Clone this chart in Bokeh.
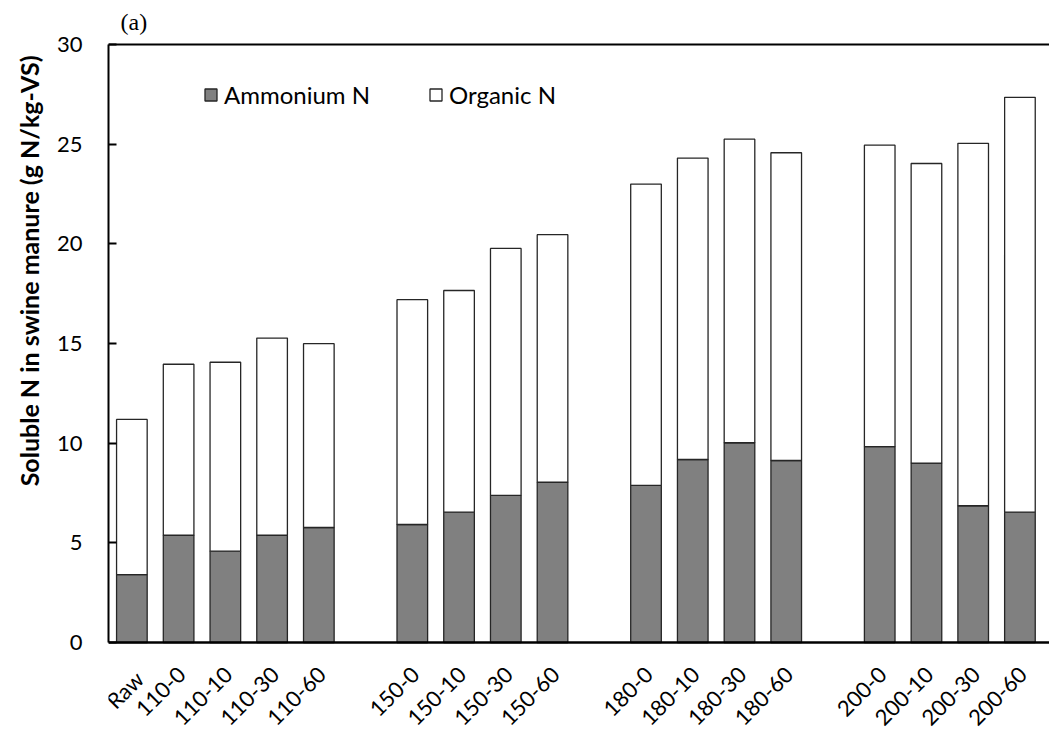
import math
from bokeh.plotting import figure
from bokeh.models import (ColumnDataSource, FixedTicker, Legend, LegendItem, Span, Title, Range1d, Label)
from bokeh.core.properties import value
from bokeh.embed import file_html
from bokeh.resources import INLINE

groups = [
    ["Raw", "110-0", "110-10", "110-30", "110-60"],
    ["150-0", "150-10", "150-30", "150-60"],
    ["180-0", "180-10", "180-30", "180-60"],
    ["200-0", "200-10", "200-30", "200-60"],
]
ammonium = [3.41, 5.38, 4.58, 5.38, 5.77,
            5.92, 6.54, 7.38, 8.04,
            7.88, 9.18, 10.02, 9.13,
            9.83, 9.00, 6.86, 6.54]
total = [11.19, 13.96, 14.06, 15.27, 14.99,
         17.20, 17.66, 19.77, 20.46,
         23.00, 24.30, 25.25, 24.57,
         24.95, 24.03, 25.04, 27.35]
organic = [round(t - a, 2) for t, a in zip(total, ammonium)]
y_ticks = [0, 5, 10, 15, 20, 25, 30]
Y_MAX = 30

labels = []
xpos = []
slot = 0
for gi, g in enumerate(groups):
    if gi > 0:
        slot += 1  # empty slot between groups
    for c in g:
        labels.append(c)
        xpos.append(slot)
        slot += 1

src = ColumnDataSource(dict(x=xpos, ammonium=ammonium, organic=organic, label=labels))

FONT = "Lato"
# layout (pixels)
LEFT_PX = 108
FRAME_W, FRAME_H = 941, 742
AXIS_PX = 598            # height of the 0..30 axis
TOP_PX = 44              # space above 30 inside the frame
BOT_PX = FRAME_H - AXIS_PX - TOP_PX  # space below 0 inside the frame
PX_PER = AXIS_PX / Y_MAX
SLOT_PX = 46.74

X0 = -0.5
X1 = X0 + FRAME_W / SLOT_PX
p = figure(frame_width=FRAME_W, frame_height=FRAME_H, output_backend="svg", toolbar_location=None,
           x_range=Range1d(X0, X1),
           y_range=Range1d(-BOT_PX / PX_PER, Y_MAX + TOP_PX / PX_PER),
           x_axis_location=None)
p.min_border = 0
p.min_border_left = LEFT_PX
p.outline_line_color = None
p.grid.grid_line_color = None
p.background_fill_color = "white"
p.border_fill_color = "white"

rs = p.vbar_stack(["ammonium", "organic"], x="x", width=0.655, source=src,
                  fill_color=["#808080", "#ffffff"], line_color="#262626", line_width=1.3)

# y axis (only spans 0..30)
p.yaxis.ticker = FixedTicker(ticks=y_ticks)
p.yaxis.bounds = (0, Y_MAX)
p.yaxis.major_tick_in = 8
p.yaxis.major_tick_out = 0
p.yaxis.minor_tick_line_color = None
p.yaxis.axis_line_width = 2
p.yaxis.major_tick_line_width = 2
p.yaxis.axis_line_color = "black"
p.yaxis.major_label_text_font = FONT
p.yaxis.major_label_text_font_size = "22px"
p.yaxis.major_label_text_color = "black"
p.yaxis.major_label_standoff = 26

# x axis line and top border line
p.add_layout(Span(location=0, dimension="width", line_color="black", line_width=2.5))
p.add_layout(Span(location=Y_MAX, dimension="width", line_color="black", line_width=2))

# x category labels, rotated 45 degrees
p.text(x="x", y=0, text="label", source=src, angle=math.pi / 4,
       text_align="right", text_baseline="top", x_offset=-2, y_offset=23,
       text_font=value(FONT), text_font_size="22px", text_color="black")

# y title
ytitle = Title(text="Soluble N in swine manure (g N/kg-VS)", align="right", offset=55,
               text_font=FONT, text_font_style="bold", text_font_size="25px",
               text_color="black", standoff=20)
p.add_layout(ytitle, "left")

# panel label
p.add_layout(Label(x=12, y=FRAME_H - 21, x_units="screen", y_units="screen", text="(a)",
                   text_font="Liberation Serif", text_font_size="24px",
                   text_baseline="alphabetic", text_color="black"))

legend = Legend(items=[LegendItem(label="Ammonium N", renderers=[rs[0]]),
                       LegendItem(label="Organic N", renderers=[rs[1]])],
                orientation="horizontal", location=(95, 633))
legend.glyph_width = 15
legend.glyph_height = 15
legend.label_standoff = 6
legend.spacing = 58
legend.padding = 0
legend.margin = 0
legend.border_line_color = None
legend.background_fill_alpha = 0
legend.label_text_font = FONT
legend.label_text_font_size = "24px"
legend.label_text_color = "black"
p.add_layout(legend, "center")

open("out.html", "w").write(file_html(p, INLINE))
